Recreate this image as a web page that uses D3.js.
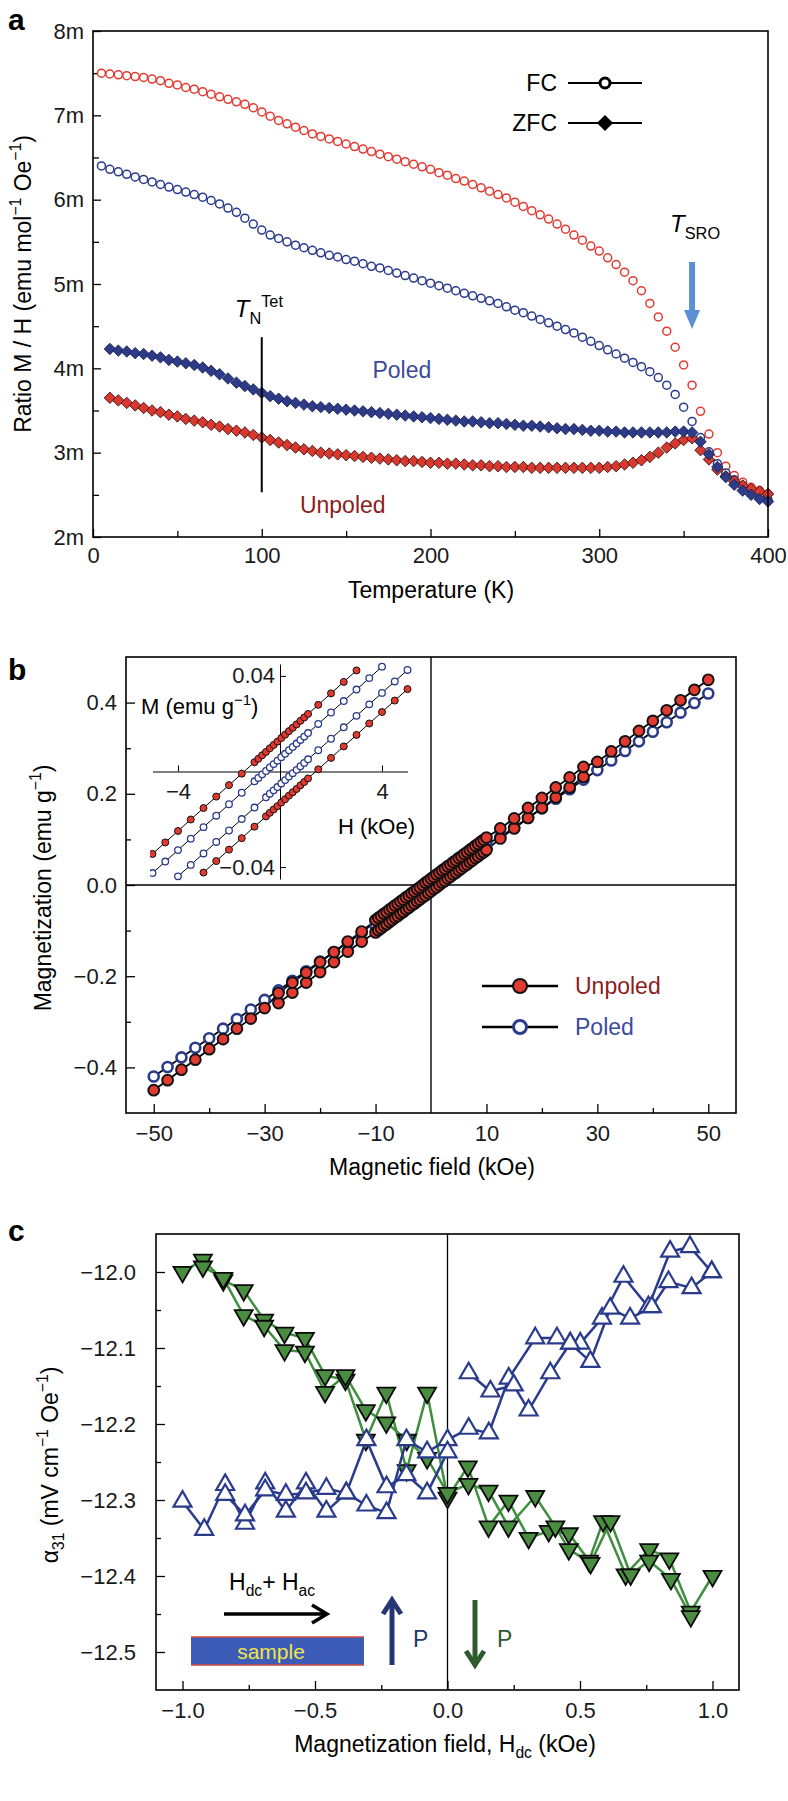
<!DOCTYPE html>
<html><head><meta charset="utf-8">
<script src="https://cdn.jsdelivr.net/npm/d3@7"></script>
<style>
body{margin:0;background:#fff;}
text{font-family:"Liberation Sans",Arial,Helvetica,sans-serif;}
</style></head><body>
<svg id="chart" width="788" height="1801"></svg>
<script>
// ---------------- DATA ----------------
// Panel a: temperature (K)
const aTemps = [5,10,15,20,25,30,35,40,45,50,55,60,65,70,75,80,85,90,95,100,105,110,115,120,125,130,135,140,145,150,155,160,165,170,175,180,185,190,195,200,205,210,215,220,225,230,235,240,245,250,255,260,265,270,275,280,285,290,295,300,305,310,315,320,325,330,335,340,345,350,355,360,365,370,375,380,385,390,395,400];
// FC, unpoled (m emu mol^-1 Oe^-1)
const fcUnpoled = [7.50,7.49,7.48,7.47,7.46,7.45,7.43,7.41,7.38,7.36,7.33,7.31,7.28,7.25,7.22,7.19,7.16,7.13,7.09,7.04,6.99,6.94,6.90,6.86,6.82,6.78,6.75,6.72,6.69,6.66,6.63,6.60,6.57,6.54,6.51,6.48,6.45,6.42,6.39,6.36,6.32,6.29,6.25,6.22,6.18,6.14,6.10,6.06,6.02,5.97,5.92,5.87,5.82,5.77,5.71,5.65,5.58,5.52,5.45,5.39,5.31,5.23,5.14,5.04,4.92,4.77,4.61,4.44,4.25,4.04,3.80,3.49,3.22,3.00,2.84,2.73,2.65,2.59,2.55,2.51];
// FC, poled
const fcPoled = [6.40,6.36,6.33,6.30,6.27,6.24,6.21,6.18,6.15,6.12,6.09,6.06,6.03,5.99,5.95,5.90,5.85,5.78,5.71,5.64,5.58,5.54,5.50,5.46,5.43,5.40,5.37,5.34,5.32,5.29,5.27,5.24,5.21,5.19,5.16,5.13,5.10,5.07,5.04,5.01,4.98,4.95,4.92,4.89,4.86,4.83,4.80,4.77,4.73,4.69,4.66,4.62,4.58,4.54,4.50,4.46,4.42,4.37,4.32,4.27,4.22,4.17,4.12,4.07,4.02,3.96,3.89,3.80,3.69,3.54,3.37,3.18,3.01,2.87,2.76,2.68,2.61,2.55,2.49,2.44];
// ZFC temperatures start at 10 K
const zfcTemps = aTemps.slice(1);
const zfcPoled = [4.23,4.21,4.20,4.18,4.17,4.15,4.13,4.10,4.08,4.06,4.04,4.01,3.97,3.93,3.88,3.83,3.79,3.75,3.71,3.67,3.64,3.61,3.59,3.57,3.55,3.54,3.53,3.52,3.51,3.50,3.49,3.48,3.47,3.46,3.45,3.44,3.43,3.42,3.41,3.40,3.39,3.38,3.37,3.37,3.36,3.35,3.35,3.34,3.33,3.32,3.32,3.31,3.30,3.29,3.28,3.28,3.27,3.26,3.26,3.25,3.25,3.24,3.24,3.24,3.24,3.24,3.24,3.25,3.25,3.24,3.13,2.98,2.83,2.71,2.62,2.55,2.50,2.45,2.42];
const zfcUnpoled = [3.65,3.62,3.59,3.56,3.53,3.50,3.48,3.45,3.43,3.40,3.38,3.36,3.33,3.31,3.28,3.26,3.24,3.21,3.18,3.15,3.12,3.09,3.06,3.04,3.02,3.00,2.99,2.98,2.97,2.96,2.95,2.94,2.93,2.92,2.91,2.90,2.90,2.89,2.88,2.88,2.87,2.87,2.86,2.85,2.85,2.84,2.84,2.83,2.83,2.83,2.82,2.82,2.82,2.82,2.82,2.82,2.82,2.82,2.82,2.83,2.84,2.86,2.88,2.91,2.95,3.00,3.06,3.11,3.15,3.17,3.03,2.92,2.80,2.72,2.66,2.61,2.57,2.54,2.51];
const aYTicks = [2,3,4,5,6,7,8];
const aYMinor = [2.5,3.5,4.5,5.5,6.5,7.5];
const aXTicks = [0,100,200,300,400];
const aXMinor = [50,150,250,350];
const tNeel = 100, tSRO = 355;

// Panel b: [field kOe, magnetization emu/g]
const bUnpoledMain = [[-50,-0.450],[-47.5,-0.428],[-45,-0.405],[-42.5,-0.383],[-40,-0.360],[-37.5,-0.338],[-35,-0.315],[-32.5,-0.293],[-30,-0.270],
 [-27.5,-0.237],[-25,-0.214],[-22.5,-0.192],[-20,-0.169],[-17.5,-0.147],[-15,-0.124],[-12.5,-0.102],
 [-10,-0.077],[-9.5,-0.072],[-9,-0.068],[-8.5,-0.063],[-8,-0.059],[-7.5,-0.054],[-7,-0.050],[-6.5,-0.045],[-6,-0.041],[-5.5,-0.036],[-5,-0.032],[-4.5,-0.027],[-4,-0.023],[-3.5,-0.018],[-3,-0.014],[-2.5,-0.009],[-2,-0.005],[-1.5,0.000],[-1,0.005],[-0.5,0.009],[0,0.014],[0.5,0.018],[1,0.023],[1.5,0.027],[2,0.032],[2.5,0.036],[3,0.041],[3.5,0.045],[4,0.050],[4.5,0.054],[5,0.059],[5.5,0.063],[6,0.068],[6.5,0.072],[7,0.077],[7.5,0.081],[8,0.086],[8.5,0.090],[9,0.095],[9.5,0.099],[10,0.104],
 [12.5,0.124],[15,0.146],[17.5,0.169],[20,0.191],[22.5,0.214],[25,0.236],[27.5,0.259],
 [30,0.270],[32.5,0.293],[35,0.315],[37.5,0.338],[40,0.360],[42.5,0.383],[45,0.405],[47.5,0.428],[50,0.450]];
const bUnpoledLower = [[-27.5,-0.259],[-25,-0.236],[-22.5,-0.214],[-20,-0.191],[-17.5,-0.169],[-15,-0.146],[-12.5,-0.124],
 [-10,-0.104],[-9.5,-0.099],[-9,-0.095],[-8.5,-0.090],[-8,-0.086],[-7.5,-0.081],[-7,-0.077],[-6.5,-0.072],[-6,-0.068],[-5.5,-0.063],[-5,-0.059],[-4.5,-0.054],[-4,-0.050],[-3.5,-0.045],[-3,-0.041],[-2.5,-0.036],[-2,-0.032],[-1.5,-0.027],[-1,-0.023],[-0.5,-0.018],[0,-0.014],[0.5,-0.009],[1,-0.005],[1.5,0.000],[2,0.005],[2.5,0.009],[3,0.014],[3.5,0.018],[4,0.023],[4.5,0.027],[5,0.032],[5.5,0.036],[6,0.041],[6.5,0.045],[7,0.050],[7.5,0.054],[8,0.059],[8.5,0.063],[9,0.068],[9.5,0.072],[10,0.077],
 [12.5,0.102],[15,0.124],[17.5,0.147],[20,0.169],[22.5,0.192],[25,0.214],[27.5,0.237]];
const bPoledMain = [[-50,-0.420],[-47.5,-0.399],[-45,-0.378],[-42.5,-0.357],[-40,-0.336],[-37.5,-0.315],[-35,-0.294],[-32.5,-0.273],[-30,-0.252],[-27.5,-0.231],[-25,-0.210],[-22.5,-0.189],[-20,-0.168],[-17.5,-0.147],[-15,-0.126],[-12.5,-0.105],[-10,-0.079],[-9,-0.070],[-8,-0.062],[-7,-0.053],[-6,-0.045],[-5,-0.037],[-4,-0.028],[-3,-0.020],[-2,-0.011],[-1,-0.003],[0,0.006],[1,0.014],[2,0.022],[3,0.031],[4,0.039],[5,0.048],[6,0.056],[7,0.064],[8,0.073],[9,0.081],[10,0.090],[12.5,0.105],[15,0.126],[17.5,0.147],[20,0.168],[22.5,0.189],[25,0.210],[27.5,0.231],[30,0.252],[32.5,0.273],[35,0.294],[37.5,0.315],[40,0.336],[42.5,0.357],[45,0.378],[47.5,0.399],[50,0.420]];
const bPoledLower = [[-10,-0.090],[-9,-0.081],[-8,-0.073],[-7,-0.064],[-6,-0.056],[-5,-0.048],[-4,-0.039],[-3,-0.031],[-2,-0.022],[-1,-0.014],[0,-0.006],[1,0.003],[2,0.011],[3,0.020],[4,0.028],[5,0.037],[6,0.045],[7,0.053],[8,0.062],[9,0.070],[10,0.079]];
const bXTicks = [-50,-30,-10,10,30,50];
const bXMinor = [-40,-20,20,40];
const bYTicks = [-0.4,-0.2,0,0.2,0.4];
const bYMinor = [-0.3,-0.1,0.1,0.3];
// Inset: [field kOe, M emu/g]
const insetUnpoledUp = [[-5,-0.0345],[-4.5,-0.0297],[-4,-0.0249],[-3.5,-0.0201],[-3,-0.0153],[-2.5,-0.0105],[-2,-0.0057],[-1.5,-0.0009],[-1,0.0039],[-0.85,0.0053],[-0.7,0.0068],[-0.55,0.0082],[-0.4,0.0097],[-0.25,0.0111],[-0.1,0.0125],[0.05,0.0140],[0.2,0.0154],[0.35,0.0169],[0.5,0.0183],[0.65,0.0197],[0.8,0.0212],[0.95,0.0226],[1.1,0.0241],[1.5,0.0279],[2,0.0327],[2.5,0.0375],[3,0.0423]];
const insetPoledUp = [[-5,-0.0425],[-4.5,-0.0377],[-4,-0.0329],[-3.5,-0.0281],[-3,-0.0233],[-2.5,-0.0185],[-2,-0.0137],[-1.5,-0.0089],[-1,-0.0041],[-0.85,-0.0027],[-0.7,-0.0012],[-0.55,0.0002],[-0.4,0.0017],[-0.25,0.0031],[-0.1,0.0045],[0.05,0.0060],[0.2,0.0074],[0.35,0.0089],[0.5,0.0103],[0.65,0.0117],[0.8,0.0132],[0.95,0.0146],[1.1,0.0161],[1.5,0.0199],[2,0.0247],[2.5,0.0295],[3,0.0343],[3.5,0.0391],[4,0.0439]];
const insetPoledDown = [[-4,-0.0439],[-3.5,-0.0391],[-3,-0.0343],[-2.5,-0.0295],[-2,-0.0247],[-1.5,-0.0199],[-1,-0.0151],[-0.55,-0.0108],[-0.4,-0.0093],[-0.25,-0.0079],[-0.1,-0.0065],[0.05,-0.0050],[0.2,-0.0036],[0.35,-0.0021],[0.5,-0.0007],[0.65,0.0007],[0.8,0.0022],[0.95,0.0036],[1.1,0.0051],[1.5,0.0089],[2,0.0137],[2.5,0.0185],[3,0.0233],[3.5,0.0281],[4,0.0329],[4.5,0.0377],[5,0.0425]];
const insetUnpoledDown = [[-3,-0.0423],[-2.5,-0.0375],[-2,-0.0327],[-1.5,-0.0279],[-1,-0.0231],[-0.55,-0.0188],[-0.4,-0.0173],[-0.25,-0.0159],[-0.1,-0.0145],[0.05,-0.0130],[0.2,-0.0116],[0.35,-0.0101],[0.5,-0.0087],[0.65,-0.0073],[0.8,-0.0058],[0.95,-0.0044],[1.1,-0.0029],[1.5,0.0009],[2,0.0057],[2.5,0.0105],[3,0.0153],[3.5,0.0201],[4,0.0249],[4.5,0.0297],[5,0.0345]];
const insetXTicks = [-4,4];
const insetYTicks = [-0.04,0.04];

// Panel c: [Hdc kOe, alpha31 mV cm^-1 Oe^-1]
const cGreenA = [[-1.0,-12.000],[-0.923,-11.984],[-0.846,-12.011],[-0.769,-12.024],[-0.692,-12.063],[-0.615,-12.080],[-0.538,-12.087],[-0.462,-12.136],[-0.385,-12.142],[-0.308,-12.221],[-0.231,-12.159],[-0.154,-12.261],[-0.077,-12.159],[0.0,-12.297],[0.077,-12.256],[0.155,-12.335],[0.230,-12.301],[0.306,-12.350],[0.382,-12.341],[0.458,-12.344],[0.534,-12.380],[0.587,-12.328],[0.672,-12.398],[0.761,-12.365],[0.837,-12.377],[0.918,-12.447],[1.0,-12.400]];
const cGreenB = [[-0.923,-11.993],[-0.846,-12.008],[-0.769,-12.057],[-0.692,-12.071],[-0.615,-12.103],[-0.538,-12.105],[-0.462,-12.158],[-0.385,-12.136],[-0.308,-12.182],[-0.231,-12.198],[-0.154,-12.221],[-0.077,-12.245],[0.0,-12.291],[0.079,-12.279],[0.155,-12.288],[0.230,-12.335],[0.331,-12.295],[0.407,-12.335],[0.458,-12.365],[0.540,-12.383],[0.615,-12.328],[0.691,-12.398],[0.761,-12.380],[0.843,-12.404],[0.918,-12.453]];
const cBlueA = [[-1.0,-12.302],[-0.918,-12.339],[-0.839,-12.280],[-0.764,-12.331],[-0.688,-12.278],[-0.610,-12.315],[-0.534,-12.278],[-0.457,-12.315],[-0.382,-12.291],[-0.306,-12.307],[-0.230,-12.317],[-0.155,-12.221],[-0.077,-12.237],[0.0,-12.221],[0.080,-12.206],[0.156,-12.212],[0.231,-12.140],[0.331,-12.087],[0.413,-12.087],[0.463,-12.094],[0.501,-12.094],[0.583,-12.061],[0.664,-12.006],[0.758,-12.046],[0.840,-11.973],[0.915,-11.967],[0.997,-12.000]];
const cBlueB = [[-0.839,-12.293],[-0.764,-12.320],[-0.688,-12.287],[-0.610,-12.293],[-0.534,-12.291],[-0.457,-12.285],[-0.382,-12.291],[-0.306,-12.221],[-0.230,-12.283],[-0.155,-12.267],[-0.077,-12.291],[0.0,-12.237]];
const cBlueC = [[0.080,-12.133],[0.162,-12.157],[0.250,-12.149],[0.306,-12.182],[0.388,-12.133],[0.463,-12.094],[0.539,-12.118],[0.614,-12.048],[0.689,-12.061],[0.771,-12.046],[0.834,-12.013],[0.921,-12.021],[0.997,-12.000]];
const cXTicks = [-1.0,-0.5,0.0,0.5,1.0];
const cXMinor = [-0.75,-0.25,0.25,0.75];
const cYTicks = [-12.5,-12.4,-12.3,-12.2,-12.1,-12.0];
const cYMinor = [-12.45,-12.35,-12.25,-12.15,-12.05];

// ---------------- DRAWING ----------------
const svg = d3.select("#chart");
svg.append("rect").attr("width",788).attr("height",1801).attr("fill","#fff");
const TICK_FS = 22, TITLE_FS = 23;
const RED = "#e23a30", NAVY = "#2a3b8c", DARKRED = "#8c1c1c", GREEN = "#4a8d40", GREENLINE = "#3f8f3f";

function styleAxis(g){
  g.select(".domain").remove();
  g.selectAll(".tick line").attr("stroke","#000").attr("stroke-width",1.3);
  g.selectAll(".tick text").attr("font-size",TICK_FS).attr("fill","#1a1a1a");
}
function rich(t, parts, fs){
  let shift = 0;
  parts.forEach(p=>{
    const target = p.sup ? -0.42*fs : (p.sub ? 0.28*fs : 0);
    t.append("tspan").attr("dy", target - shift)
      .attr("font-size", (p.sup||p.sub) ? fs*0.68 : fs)
      .attr("font-style", p.it ? "italic" : null).text(p.t);
    shift = target;
  });
}
function panelLetter(txt, x, y){
  svg.append("text").attr("x",x).attr("y",y).attr("font-size",30).attr("font-weight","bold").text(txt);
}
function box(x0,y0,x1,y1){
  svg.append("rect").attr("x",x0).attr("y",y0).attr("width",x1-x0).attr("height",y1-y0)
    .attr("fill","none").attr("stroke","#000").attr("stroke-width",1.6);
}

// ===== Panel a =====
const xa = d3.scaleLinear().domain([0,400]).range([93,768]);
const ya = d3.scaleLinear().domain([2,8]).range([537,31]);
panelLetter("a", 8, 30);
svg.append("g").attr("transform",`translate(0,${ya(2)})`)
  .call(d3.axisBottom(xa).tickValues(aXTicks).tickSizeInner(-8).tickSizeOuter(0).tickPadding(10)).call(styleAxis);
svg.append("g").attr("transform",`translate(0,${ya(2)})`)
  .call(d3.axisBottom(xa).tickValues(aXMinor).tickSizeInner(-6).tickSizeOuter(0).tickFormat("")).call(styleAxis);
svg.append("g").attr("transform",`translate(${xa(0)},0)`)
  .call(d3.axisLeft(ya).tickValues(aYTicks).tickFormat(d=>d+"m").tickSizeInner(-8).tickSizeOuter(0).tickPadding(9)).call(styleAxis);
svg.append("g").attr("transform",`translate(${xa(0)},0)`)
  .call(d3.axisLeft(ya).tickValues(aYMinor).tickSizeInner(-6).tickSizeOuter(0).tickFormat("")).call(styleAxis);

const ga = svg.append("g");
ga.selectAll("circle.fcu").data(aTemps).join("circle")
  .attr("cx",(d)=>xa(d)).attr("cy",(d,i)=>ya(fcUnpoled[i])).attr("r",4)
  .attr("fill","#fff").attr("stroke",RED).attr("stroke-width",1.5);
ga.selectAll("circle.fcp").data(aTemps).join("circle")
  .attr("cx",(d)=>xa(d)).attr("cy",(d,i)=>ya(fcPoled[i])).attr("r",4)
  .attr("fill","#fff").attr("stroke",NAVY).attr("stroke-width",1.5);
const diamond = d3.symbol(d3.symbolSquare, 66);
ga.selectAll("path.zu").data(zfcTemps).join("path")
  .attr("d",diamond).attr("transform",(d,i)=>`translate(${xa(d)},${ya(zfcUnpoled[i])}) rotate(45)`)
  .attr("fill","#d8392e").attr("stroke","#3a0c0c").attr("stroke-width",0.8);
ga.selectAll("path.zp").data(zfcTemps).join("path")
  .attr("d",diamond).attr("transform",(d,i)=>`translate(${xa(d)},${ya(zfcPoled[i])}) rotate(45)`)
  .attr("fill","#2d3b88").attr("stroke","#1a2254").attr("stroke-width",0.8);

// T_N line and label
svg.append("line").attr("x1",xa(tNeel)).attr("x2",xa(tNeel)).attr("y1",ya(4.37)).attr("y2",ya(2.53))
  .attr("stroke","#000").attr("stroke-width",2);
rich(svg.append("text").attr("x",xa(tNeel)-27).attr("y",317), [{t:"T",it:true},{t:"N",sub:true},{t:"Tet",sup:true}], 24);
// T_SRO arrow and label
const arrX = xa(tSRO);
svg.append("line").attr("x1",arrX).attr("x2",arrX).attr("y1",262).attr("y2",312).attr("stroke","#5b8fd6").attr("stroke-width",6);
svg.append("path").attr("d",`M${arrX-8},310 L${arrX+8},310 L${arrX},329 Z`).attr("fill","#5b8fd6");
rich(svg.append("text").attr("x",arrX-22).attr("y",232), [{t:"T",it:true},{t:"SRO",sub:true}], 24);
// labels
svg.append("text").attr("x",xa(183)).attr("y",378).attr("text-anchor","middle").attr("font-size",TITLE_FS).attr("fill","#3a4a9c").text("Poled");
svg.append("text").attr("x",xa(148)).attr("y",513).attr("text-anchor","middle").attr("font-size",TITLE_FS).attr("fill",DARKRED).text("Unpoled");
// legend
[["FC",83,"circle"],["ZFC",123,"diamond"]].forEach(([lab,y,type])=>{
  svg.append("text").attr("x",557).attr("y",y+8).attr("text-anchor","end").attr("font-size",TITLE_FS).text(lab);
  svg.append("line").attr("x1",568).attr("x2",642).attr("y1",y).attr("y2",y).attr("stroke","#000").attr("stroke-width",2);
  if(type==="circle") svg.append("circle").attr("cx",605).attr("cy",y).attr("r",5).attr("fill","#fff").attr("stroke","#000").attr("stroke-width",3);
  else svg.append("path").attr("d",d3.symbol(d3.symbolSquare,130)).attr("transform",`translate(605,${y}) rotate(45)`).attr("fill","#000");
});
box(xa(0),ya(8),xa(400),ya(2));
svg.append("text").attr("x",431).attr("y",598).attr("text-anchor","middle").attr("font-size",TITLE_FS).text("Temperature (K)");
rich(svg.append("text").attr("transform","translate(31,284) rotate(-90)").attr("text-anchor","middle"),
  [{t:"Ratio M / H (emu mol"},{t:"−1",sup:true},{t:" Oe"},{t:"−1",sup:true},{t:")"}], TITLE_FS);

// ===== Panel b =====
const xb = d3.scaleLinear().domain([-55,55]).range([126,736]);
const yb = d3.scaleLinear().domain([-0.5,0.5]).range([1113,657]);
panelLetter("b", 8, 680);
svg.append("g").attr("transform",`translate(0,${yb(-0.5)})`)
  .call(d3.axisBottom(xb).tickValues(bXTicks).tickFormat(d3.format("d")).tickSizeInner(-9).tickSizeOuter(0).tickPadding(12)).call(styleAxis);
svg.append("g").attr("transform",`translate(0,${yb(-0.5)})`)
  .call(d3.axisBottom(xb).tickValues(bXMinor).tickSizeInner(-5).tickSizeOuter(0).tickFormat("")).call(styleAxis);
svg.append("g").attr("transform",`translate(${xb(-55)},0)`)
  .call(d3.axisLeft(yb).tickValues(bYTicks).tickFormat(d3.format(".1f")).tickSizeInner(-9).tickSizeOuter(0).tickPadding(9)).call(styleAxis);
svg.append("g").attr("transform",`translate(${xb(-55)},0)`)
  .call(d3.axisLeft(yb).tickValues(bYMinor).tickSizeInner(-5).tickSizeOuter(0).tickFormat("")).call(styleAxis);
svg.append("line").attr("x1",xb(-55)).attr("x2",xb(55)).attr("y1",yb(0)).attr("y2",yb(0)).attr("stroke","#000").attr("stroke-width",1.4);
svg.append("line").attr("x1",xb(0)).attr("x2",xb(0)).attr("y1",yb(0.5)).attr("y2",yb(-0.5)).attr("stroke","#000").attr("stroke-width",1.4);
const lineB = d3.line().x(d=>xb(d[0])).y(d=>yb(d[1]));
[bPoledMain,bPoledLower,bUnpoledMain,bUnpoledLower].forEach(s=>{
  svg.append("path").attr("d",lineB(s)).attr("fill","none").attr("stroke","#000").attr("stroke-width",1.8);
});
[bPoledMain,bPoledLower].forEach(s=>{
  svg.append("g").selectAll("circle").data(s).join("circle").attr("cx",d=>xb(d[0])).attr("cy",d=>yb(d[1])).attr("r",5)
    .attr("fill","#fff").attr("stroke",NAVY).attr("stroke-width",2.6);
});
[bUnpoledLower,bUnpoledMain].forEach(s=>{
  svg.append("g").selectAll("circle").data(s).join("circle").attr("cx",d=>xb(d[0])).attr("cy",d=>yb(d[1])).attr("r",5.4)
    .attr("fill",RED).attr("stroke","#111").attr("stroke-width",1.9);
});
// legend b
[["Unpoled",986,true],["Poled",1027,false]].forEach(([lab,y,filled])=>{
  svg.append("line").attr("x1",482).attr("x2",558).attr("y1",y).attr("y2",y).attr("stroke","#000").attr("stroke-width",2.5);
  svg.append("circle").attr("cx",520).attr("cy",y).attr("r",filled?7:6.5)
    .attr("fill",filled?RED:"#fff").attr("stroke",filled?"#111":NAVY).attr("stroke-width",filled?2:3);
  svg.append("text").attr("x",575).attr("y",y+8).attr("font-size",TITLE_FS).attr("fill",filled?DARKRED:"#3a4a9c").text(lab);
});
box(xb(-55),yb(0.5),xb(55),yb(-0.5));
svg.append("text").attr("x",432).attr("y",1175).attr("text-anchor","middle").attr("font-size",TITLE_FS).text("Magnetic field (kOe)");
rich(svg.append("text").attr("transform","translate(51,888) rotate(-90)").attr("text-anchor","middle"),
  [{t:"Magnetization (emu g"},{t:"−1",sup:true},{t:")"}], TITLE_FS);

// Inset
const xi = d3.scaleLinear().domain([-5,5]).range([152.5,407.5]);
const yi = d3.scaleLinear().domain([-0.045,0.045]).range([879,664]);
const gi = svg.append("g");
const ax1 = gi.append("g").attr("transform",`translate(0,${yi(0)})`)
  .call(d3.axisBottom(xi).tickValues(insetXTicks).tickFormat(d3.format("d")).tickSizeInner(-6).tickSizeOuter(0).tickPadding(12));
const ax2 = gi.append("g").attr("transform",`translate(${xi(0)},0)`)
  .call(d3.axisLeft(yi).tickValues(insetYTicks).tickFormat(d3.format(".2f")).tickSizeInner(-6).tickSizeOuter(0).tickPadding(5));
[ax1,ax2].forEach(a=>{a.select(".domain").attr("stroke","#000").attr("stroke-width",1);
  a.selectAll(".tick line").attr("stroke","#000"); a.selectAll(".tick text").attr("font-size",TICK_FS).attr("fill","#1a1a1a");});
svg.append("clipPath").attr("id","insetClip").append("rect").attr("x",150).attr("y",661).attr("width",262).attr("height",222);
const gic = gi.append("g").attr("clip-path","url(#insetClip)");
const lineI = d3.line().x(d=>xi(d[0])).y(d=>yi(d[1]));
[insetUnpoledUp,insetPoledUp,insetPoledDown,insetUnpoledDown].forEach(s=>{
  gic.append("path").attr("d",lineI(s)).attr("fill","none").attr("stroke","#000").attr("stroke-width",1);
});
[insetPoledUp,insetPoledDown].forEach(s=>{
  gic.append("g").selectAll("circle").data(s).join("circle").attr("cx",d=>xi(d[0])).attr("cy",d=>yi(d[1])).attr("r",3.3)
    .attr("fill","#fff").attr("stroke",NAVY).attr("stroke-width",1.3);
});
[insetUnpoledUp,insetUnpoledDown].forEach(s=>{
  gic.append("g").selectAll("circle").data(s).join("circle").attr("cx",d=>xi(d[0])).attr("cy",d=>yi(d[1])).attr("r",3.5)
    .attr("fill",RED).attr("stroke","#111").attr("stroke-width",1);
});
rich(svg.append("text").attr("x",141).attr("y",714), [{t:"M (emu g"},{t:"−1",sup:true},{t:")"}], TICK_FS);
svg.append("text").attr("x",338).attr("y",834).attr("font-size",TICK_FS).text("H (kOe)");

// ===== Panel c =====
const xc = d3.scaleLinear().domain([-1.1,1.1]).range([156,739]);
const yc = d3.scaleLinear().domain([-12.55,-11.95]).range([1690,1234]);
panelLetter("c", 8, 1241);
svg.append("g").attr("transform",`translate(0,${yc(-12.55)})`)
  .call(d3.axisBottom(xc).tickValues(cXTicks).tickFormat(d3.format(".1f")).tickSizeInner(-9).tickSizeOuter(0).tickPadding(12)).call(styleAxis);
svg.append("g").attr("transform",`translate(0,${yc(-12.55)})`)
  .call(d3.axisBottom(xc).tickValues(cXMinor).tickSizeInner(-5).tickSizeOuter(0).tickFormat("")).call(styleAxis);
svg.append("g").attr("transform",`translate(${xc(-1.1)},0)`)
  .call(d3.axisLeft(yc).tickValues(cYTicks).tickFormat(d3.format(".1f")).tickSizeInner(-9).tickSizeOuter(0).tickPadding(20)).call(styleAxis);
svg.append("g").attr("transform",`translate(${xc(-1.1)},0)`)
  .call(d3.axisLeft(yc).tickValues(cYMinor).tickSizeInner(-5).tickSizeOuter(0).tickFormat("")).call(styleAxis);
svg.append("line").attr("x1",xc(0)).attr("x2",xc(0)).attr("y1",yc(-11.95)).attr("y2",yc(-12.55)).attr("stroke","#000").attr("stroke-width",1.3);

const lineC = d3.line().x(d=>xc(d[0])).y(d=>yc(d[1]));
const tri = d3.symbol(d3.symbolTriangle, 140);
[cGreenA,cGreenB].forEach(s=>{
  svg.append("path").attr("d",lineC(s)).attr("fill","none").attr("stroke",GREENLINE).attr("stroke-width",2.5);
});
[cGreenA,cGreenB].forEach(s=>{
  svg.append("g").selectAll("path").data(s).join("path").attr("d",tri)
    .attr("transform",d=>`translate(${xc(d[0])},${yc(d[1])}) rotate(180)`)
    .attr("fill",GREEN).attr("stroke","#0a0a0a").attr("stroke-width",1.8);
});
[cBlueA,cBlueB,cBlueC].forEach(s=>{
  svg.append("path").attr("d",lineC(s)).attr("fill","none").attr("stroke",NAVY).attr("stroke-width",2.5);
});
[cBlueA,cBlueB,cBlueC].forEach(s=>{
  svg.append("g").selectAll("path").data(s).join("path").attr("d",tri)
    .attr("transform",d=>`translate(${xc(d[0])},${yc(d[1])})`)
    .attr("fill","#fff").attr("stroke",NAVY).attr("stroke-width",2.2);
});
// annotations c
rich(svg.append("text").attr("x",229).attr("y",1590), [{t:"H"},{t:"dc",sub:true},{t:"+ H"},{t:"ac",sub:true}], TITLE_FS);
svg.append("line").attr("x1",224).attr("x2",324).attr("y1",1614).attr("y2",1614).attr("stroke","#000").attr("stroke-width",3.5);
svg.append("path").attr("d","M312,1605 L327,1614 L312,1623").attr("fill","none").attr("stroke","#000").attr("stroke-width",3.5);
svg.append("rect").attr("x",191).attr("y",1637).attr("width",173).attr("height",28).attr("fill","#3c5cb8");
svg.append("line").attr("x1",191).attr("x2",364).attr("y1",1637).attr("y2",1637).attr("stroke","#d04a3a").attr("stroke-width",1.5);
svg.append("line").attr("x1",191).attr("x2",364).attr("y1",1665).attr("y2",1665).attr("stroke","#d04a3a").attr("stroke-width",1.5);
svg.append("text").attr("x",271).attr("y",1659).attr("text-anchor","middle").attr("font-size",21).attr("fill","#f0e64a").text("sample");
svg.append("line").attr("x1",392).attr("x2",392).attr("y1",1665).attr("y2",1604).attr("stroke","#253670").attr("stroke-width",5);
svg.append("path").attr("d","M383,1614 L392,1600 L401,1614").attr("fill","none").attr("stroke","#253670").attr("stroke-width",5);
svg.append("text").attr("x",413).attr("y",1647).attr("font-size",TITLE_FS).attr("fill","#253670").text("P");
svg.append("line").attr("x1",475).attr("x2",475).attr("y1",1600).attr("y2",1661).attr("stroke","#2e5a2e").attr("stroke-width",5);
svg.append("path").attr("d","M466,1651 L475,1665 L484,1651").attr("fill","none").attr("stroke","#2e5a2e").attr("stroke-width",5);
svg.append("text").attr("x",497).attr("y",1647).attr("font-size",TITLE_FS).attr("fill","#2e5a2e").text("P");

box(xc(-1.1),yc(-11.95),xc(1.1),yc(-12.55));
rich(svg.append("text").attr("x",445).attr("y",1752).attr("text-anchor","middle"),
  [{t:"Magnetization field, H"},{t:"dc",sub:true},{t:" (kOe)"}], TITLE_FS);
rich(svg.append("text").attr("transform","translate(58,1465) rotate(-90)").attr("text-anchor","middle"),
  [{t:"α"},{t:"31",sub:true},{t:" (mV cm"},{t:"−1",sup:true},{t:" Oe"},{t:"−1",sup:true},{t:")"}], TITLE_FS);
</script>
</body></html>
